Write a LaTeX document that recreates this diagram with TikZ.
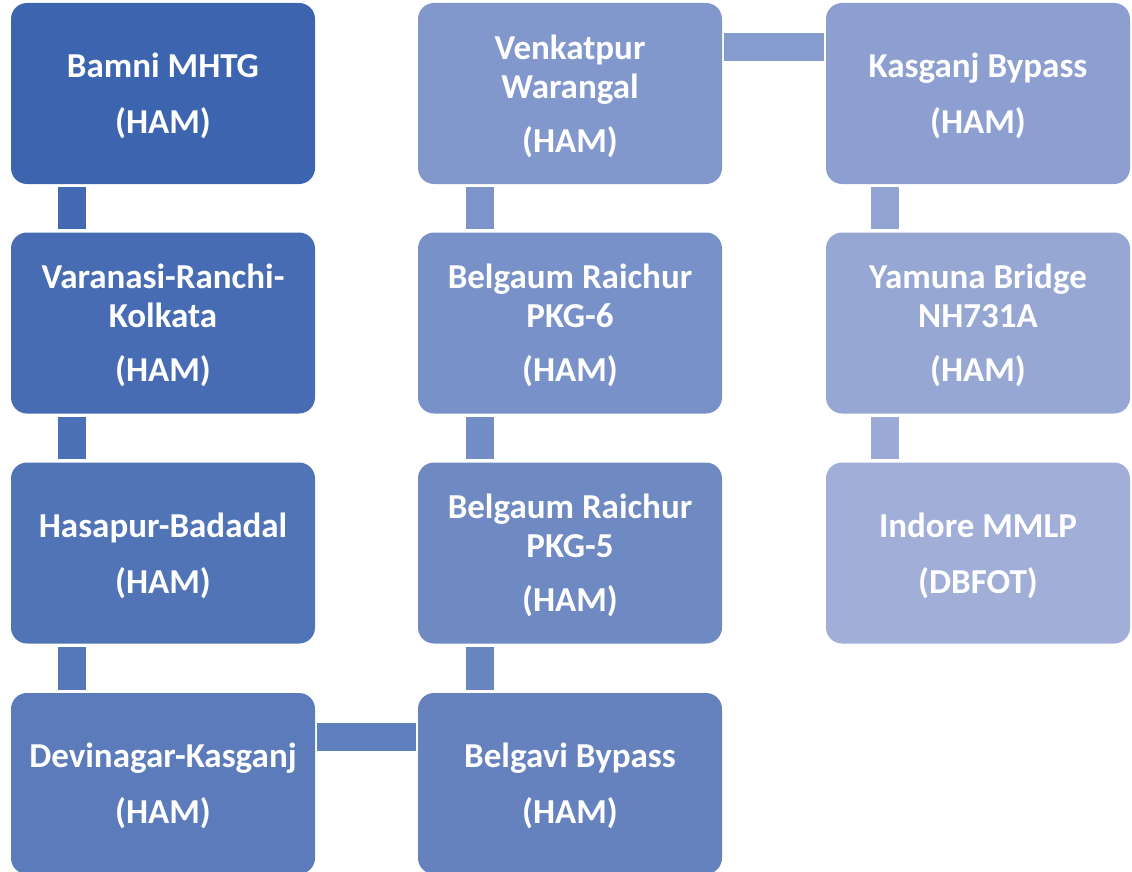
\documentclass[tikz,border=0pt]{standalone}
\usepackage{fontspec}
\setmainfont{Carlito}
\definecolor{cs}{RGB}{61,101,175}
\definecolor{ce}{RGB}{160,174,216}
\newcommand{\topstrut}{\rule{0pt}{30pt}}
\tikzset{
  box/.style={draw=none, rounded corners=16pt, minimum width=304pt, minimum height=181pt,
    inner sep=0pt, align=center, text=white,
    font=\fontsize{35pt}{39pt}\selectfont\bfseries},
  vbar/.style={line width=28pt, shorten <=3pt, shorten >=3pt},
  hbar/.style={line width=28pt, shorten <=2pt, shorten >=2pt}
}
\begin{document}
\begin{tikzpicture}[x=1pt,y=-1pt]
\useasboundingbox (0,0) rectangle (1132,872);
\node[box, fill=cs] (b1) at (163,93.5) {\topstrut Bamni MHTG\\[17pt](HAM)};
\node[box, fill=cs!90!ce] (b2) at (163,323) {\topstrut Varanasi-Ranchi-\\Kolkata\\[15pt](HAM)};
\node[box, fill=cs!80!ce] (b3) at (163,553) {\topstrut Hasapur-Badadal\\[17pt](HAM)};
\node[box, fill=cs!70!ce] (b4) at (163,783.5) {\topstrut Devinagar-Kasganj\\[17pt](HAM)};
\node[box, fill=cs!60!ce] (b5) at (570,783.5) {\topstrut Belgavi Bypass\\[17pt](HAM)};
\node[box, fill=cs!50!ce] (b6) at (570,553) {\topstrut Belgaum Raichur\\PKG-5\\[15pt](HAM)};
\node[box, fill=cs!40!ce] (b7) at (570,323) {\topstrut Belgaum Raichur\\PKG-6\\[15pt](HAM)};
\node[box, fill=cs!30!ce] (b8) at (570,93.5) {\topstrut Venkatpur\\Warangal\\[15pt](HAM)};
\node[box, fill=cs!20!ce] (b9) at (978,93.5) {\topstrut Kasganj Bypass\\[17pt](HAM)};
\node[box, fill=cs!10!ce] (b10) at (978,323) {\topstrut Yamuna Bridge\\NH731A\\[15pt](HAM)};
\node[box, fill=ce] (b11) at (978,553) {\topstrut Indore MMLP\\[17pt](DBFOT)};
\draw[vbar, draw=cs!95!ce] ([xshift=61pt]b1.south west) -- ([xshift=61pt]b2.north west);
\draw[vbar, draw=cs!85!ce] ([xshift=61pt]b2.south west) -- ([xshift=61pt]b3.north west);
\draw[vbar, draw=cs!75!ce] ([xshift=61pt]b3.south west) -- ([xshift=61pt]b4.north west);
\draw[hbar, draw=cs!65!ce] ([yshift=-44pt]b4.north east) -- ([yshift=-44pt]b5.north west);
\draw[vbar, draw=cs!55!ce] ([xshift=62pt]b5.north west) -- ([xshift=62pt]b6.south west);
\draw[vbar, draw=cs!45!ce] ([xshift=62pt]b6.north west) -- ([xshift=62pt]b7.south west);
\draw[vbar, draw=cs!35!ce] ([xshift=62pt]b7.north west) -- ([xshift=62pt]b8.south west);
\draw[hbar, draw=cs!25!ce] ([yshift=-44pt]b8.north east) -- ([yshift=-44pt]b9.north west);
\draw[vbar, draw=cs!15!ce] ([xshift=59pt]b9.south west) -- ([xshift=59pt]b10.north west);
\draw[vbar, draw=cs!5!ce] ([xshift=59pt]b10.south west) -- ([xshift=59pt]b11.north west);
\end{tikzpicture}
\end{document}
